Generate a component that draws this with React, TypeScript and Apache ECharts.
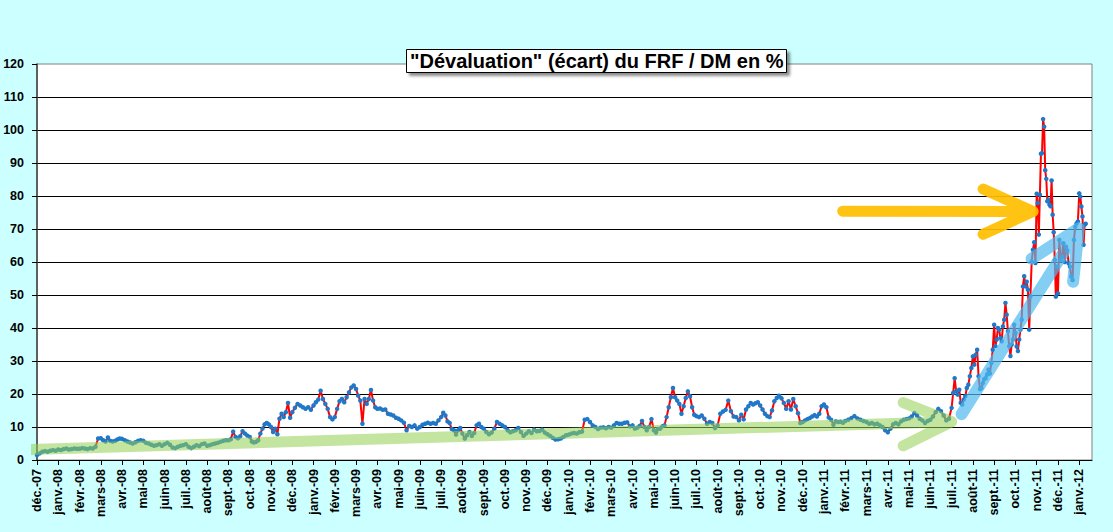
import React, { useEffect, useRef } from "react";
import * as echarts from "echarts";

// ---------- labels ----------
const TITLE = '"Dévaluation" (écart) du FRF / DM en %';
const MONTH_ABBR = ["janv.", "févr.", "mars", "avr.", "mai", "juin", "juil.", "août", "sept.", "oct.", "nov.", "déc."];
const FIRST_YEAR = 2007;
const FIRST_MONTH = 11; // déc.-07
const MONTH_COUNT = 50; // déc.-07 … janv.-12
const LAST_DATA_DAY = 11; // the series stops in mid-January 2012
const Y_TICKS = [0, 10, 20, 30, 40, 50, 60, 70, 80, 90, 100, 110, 120];

// ---------- values, one array per month (%) ----------
const y2007 = [[1.5, 2.0, 2.5, 2.7, 2.5, 2.8, 3.0, 2.8]];
const y2008 = [
  [3.2, 3.0, 3.3, 3.5, 3.2, 3.3, 3.5, 3.4],
  [3.4, 3.6, 3.5, 3.3, 3.6, 3.5, 4.0, 6.5],
  [6.6, 6.0, 5.6, 6.8, 5.8, 5.6, 5.8, 6.2, 6.5],
  [6.4, 6.0, 5.6, 5.3, 5.0, 5.4, 5.8, 6.0],
  [5.8, 5.2, 5.0, 4.6, 4.3, 4.5, 4.8, 4.3],
  [4.8, 5.2, 4.6, 3.8, 3.6, 4.0, 4.3, 4.5],
  [4.8, 4.0, 3.6, 4.0, 4.5, 4.2, 4.8, 5.0],
  [4.3, 4.5, 4.8, 5.0, 5.2, 5.5, 5.8, 6.0],
  [6.0, 6.3, 8.6, 7.0, 6.6, 7.2, 8.7, 8.0, 7.4],
  [7.0, 5.6, 5.3, 5.5, 6.0, 8.0, 9.5, 10.8, 11.2, 10.8],
  [10.0, 8.5, 9.5, 7.8, 12.5, 14.0, 13.0, 14.5, 17.3, 12.8],
  [14.5, 15.8, 17.0, 16.5, 16.0, 15.5, 16.0, 15.2],
];
const y2009 = [
  [16.5, 17.5, 18.3, 21.0, 18.5, 17.0, 15.5, 13.0, 12.3],
  [13.0, 15.5, 17.8, 18.5, 17.5, 19.0, 20.5, 22.0, 22.6],
  [21.5, 19.5, 18.0, 11.0, 18.5, 17.0, 18.5, 21.2, 18.0, 16.0],
  [15.5, 15.6, 15.2, 15.3, 14.0, 13.8, 13.5, 12.8],
  [12.5, 12.0, 11.3, 9.0, 10.3, 10.0, 10.5, 9.5],
  [10.0, 10.7, 11.0, 11.3, 11.0, 11.2, 11.0, 12.0],
  [13.0, 14.3, 13.5, 11.7, 11.2, 9.4, 9.0, 7.7, 9.0, 9.7],
  [8.0, 6.5, 7.5, 8.5, 7.3, 8.2, 10.5, 11.0, 10.0],
  [9.5, 8.5, 7.8, 8.3, 9.5, 11.5, 11.0, 10.5],
  [10.0, 9.0, 8.4, 8.7, 9.0, 9.7, 8.5, 7.3],
  [8.0, 8.7, 8.2, 9.2, 8.7, 8.8, 9.2, 8.3],
  [7.8, 7.3, 6.7, 6.2, 6.3, 6.5, 7.0, 7.5],
];
const y2010 = [
  [7.7, 8.0, 8.2, 8.0, 8.4, 8.6, 12.2, 12.4],
  [11.5, 10.5, 10.0, 9.4, 9.8, 9.9, 9.6, 10.0],
  [9.8, 10.5, 11.2, 11.0, 11.0, 11.3, 11.4, 10.2],
  [10.5, 9.5, 9.8, 10.3, 11.8, 10.0, 9.0, 10.0, 12.4],
  [9.0, 8.3, 9.4, 9.5, 10.2, 10.5, 13.0, 16.0, 19.0, 21.8],
  [19.0, 18.0, 17.0, 14.0, 16.3, 18.8, 20.8, 19.3, 16.0, 13.7],
  [13.3, 13.0, 13.5, 12.5, 11.0, 11.5, 11.2, 9.7],
  [10.5, 14.0, 14.7, 15.2, 18.0, 14.8, 13.2, 13.0],
  [12.0, 13.7, 12.3, 15.3, 16.3, 17.3, 16.8, 17.2, 17.5],
  [16.5, 15.3, 14.0, 13.3, 13.0, 15.0, 17.8, 18.8, 19.5],
  [18.7, 17.3, 15.5, 17.8, 15.3, 18.5, 16.3, 14.2, 11.2],
  [11.5, 12.0, 12.4, 12.7, 13.2, 13.6, 13.2, 14.0, 16.3],
];
const y2011 = [
  [16.8, 16.0, 12.9, 12.2, 10.7, 11.7, 11.5, 11.6, 11.3],
  [11.8, 12.2, 12.7, 13.3, 12.6, 12.2, 11.8],
  [11.5, 11.0, 11.2, 10.8, 11.0, 10.5, 10.0, 9.0],
  [8.4, 9.5, 10.8, 11.2, 10.8, 11.7, 12.2, 12.4],
  [12.6, 13.2, 14.2, 13.5, 12.5, 12.0, 11.2, 11.8],
  [12.2, 13.2, 14.5, 15.5, 14.8, 13.5, 12.0, 12.5],
  [15.8, 20.3, 24.8, 20.8, 19.8, 21.3, 17.3, 16.8, 18.3, 19.3, 21.8, 22.8, 25.4, 27.9],
  [31.4, 28.9, 31.9, 33.4, 25.4, 21.5, 21.8, 23.3, 24.5, 24.8, 25.9, 27.4, 26.2, 29.4, 33.4],
  [41.0, 34.5, 36.5, 40.0, 39.5, 37.0, 36.0, 40.5, 42.5, 47.6, 44.0, 39.0, 34.5, 31.5, 35.0, 36.5, 41.0],
  [38.5, 34.4, 33.0, 36.5, 39.5, 42.5, 52.6, 55.7, 52.6, 54.0, 51.6, 39.5, 49.6, 60.2, 63.7, 66.0, 59.7],
  [80.7, 77.9, 68.3, 80.4, 92.8, 93.0, 103.3, 101.0, 87.8, 85.2, 78.4, 78.9, 77.4, 76.9, 84.7, 74.3, 69.0, 60.6, 49.5, 58.6],
  [50.5, 66.7, 60.6, 61.6, 65.7, 60.0, 64.6, 63.5, 59.6, 58.6, 55.6, 54.5, 66.7, 70.7, 71.7, 72.3],
];
const y2012 = [[80.8, 79.8, 76.8, 73.8, 65.2, 71.3, 71.6]];

// ---------- hand-drawn arrows, in data coordinates [month index, %] ----------
const greenArrow = [[-0.3, 3.2], [43.0, 11.6], [40.72, 17.4], [43.0, 11.6], [40.72, 4.3]];
const blueArrow = [[43.47, 13.9], [48.98, 70.2], [46.76, 61.0], [48.98, 70.2], [48.71, 54.0]];
const orangeArrow = [[37.88, 75.4], [46.83, 75.3], [44.48, 82.1], [46.83, 75.3], [44.48, 68.4]];

const X_MAX = 49.6;

const monthLabels = Array.from({ length: MONTH_COUNT }, (_, k) => {
  const t = FIRST_MONTH + k;
  const yr = FIRST_YEAR + Math.floor(t / 12);
  return `${MONTH_ABBR[t % 12]}-${String(yr % 100).padStart(2, "0")}`;
});

const FONT = "'Liberation Sans', Arial, sans-serif";

export default function App() {
  const ref = useRef<HTMLDivElement>(null);

  useEffect(() => {
    if (!ref.current) return;
    const chart = echarts.init(ref.current, undefined, { renderer: "svg" });

    const months = [...y2007, ...y2008, ...y2009, ...y2010, ...y2011, ...y2012];
    const seriesData: [number, number][] = [];
    months.forEach((vals, m) => {
      const span = m === months.length - 1 ? LAST_DATA_DAY / 31 : 1;
      vals.forEach((v, i) => seriesData.push([m + (i / vals.length) * span, v]));
    });

    const arrowSeries = (data: number[][], color: string, width: number) => ({
      type: "line",
      data,
      symbol: "none",
      silent: true,
      lineStyle: { color, width, cap: "round", join: "round" },
      z: 3,
    });

    chart.setOption({
      animation: false,
      backgroundColor: "#CCFFFF",
      textStyle: { fontFamily: FONT },
      title: {
        text: TITLE,
        left: 406,
        top: 49,
        padding: [2, 3, 2, 4],
        backgroundColor: "#ffffff",
        borderColor: "#000000",
        borderWidth: 1,
        shadowColor: "rgba(0,0,0,0.45)",
        shadowBlur: 3,
        shadowOffsetX: 3,
        shadowOffsetY: 3,
        textStyle: { fontFamily: FONT, fontSize: 20, fontWeight: "bold", color: "#000" },
      },
      grid: {
        left: 37,
        right: 21,
        top: 64,
        bottom: 72,
        show: true,
        backgroundColor: "#ffffff",
        borderColor: "#808080",
        borderWidth: 1,
      },
      xAxis: {
        type: "value",
        min: 0,
        max: X_MAX,
        interval: 1,
        axisLine: { show: true, lineStyle: { color: "#000", width: 1 } },
        axisTick: { show: true, length: 5, inside: false, lineStyle: { color: "#000" } },
        splitLine: { show: false },
        axisLabel: {
          rotate: 90,
          margin: 9,
          fontFamily: FONT,
          fontSize: 12.5,
          fontWeight: "bold",
          color: "#000",
          showMaxLabel: false,
          formatter: (v: number) => {
            const r = Math.round(v);
            return Math.abs(v - r) < 1e-6 && r >= 0 && r < monthLabels.length ? monthLabels[r] : "";
          },
        },
      },
      yAxis: {
        type: "value",
        min: Y_TICKS[0],
        max: Y_TICKS[Y_TICKS.length - 1],
        interval: Y_TICKS[1] - Y_TICKS[0],
        axisLine: { show: true, lineStyle: { color: "#404040", width: 1.5 } },
        axisTick: { show: true, length: 5, lineStyle: { color: "#000" } },
        splitLine: { show: true, showMinLine: false, showMaxLine: false, lineStyle: { color: "#000", width: 1 } },
        axisLabel: { fontFamily: FONT, fontSize: 12.5, fontWeight: "bold", color: "#000", margin: 13 },
      },
      series: [
        {
          type: "line",
          data: seriesData,
          symbol: "circle",
          symbolSize: 4.5,
          showSymbol: true,
          itemStyle: { color: "#1F78C8" },
          lineStyle: { color: "#FF0000", width: 2 },
          z: 2,
        },
        arrowSeries(greenArrow, "rgba(146,208,80,0.55)", 11),
        arrowSeries(blueArrow, "rgba(80,185,240,0.7)", 12),
        arrowSeries(orangeArrow, "rgba(255,190,0,0.92)", 11),
      ],
    });

    return () => chart.dispose();
  }, []);

  return (
    <div
      ref={ref}
      style={{ position: "fixed", left: 0, top: 0, width: 1113, height: 532 }}
    />
  );
}
